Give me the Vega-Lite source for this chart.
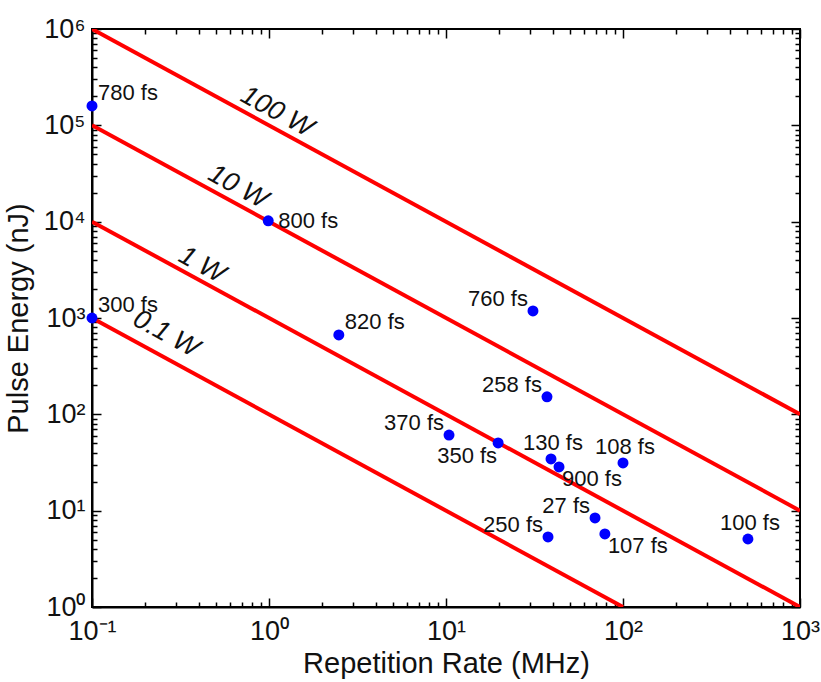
{
  "$schema": "https://vega.github.io/schema/vega-lite/v6.json",
  "width": 708,
  "height": 578,
  "autosize": {"type": "none"},
  "padding": {"left": 92, "top": 29, "right": 21, "bottom": 75},
  "background": "white",
  "config": {
    "font": "Liberation Sans",
    "view": {"stroke": "black", "strokeWidth": 2},
    "axis": {"grid": false, "labelFont": "Liberation Sans", "titleFont": "Liberation Sans", "labelColor": "#111", "titleColor": "#111", "titleFontWeight": "normal", "tickColor": "black", "domainColor": "black", "domainWidth": 2, "tickWidth": 1.5, "labelOverlap": false, "labelFlush": false}
  },
  "datasets": {
    "lines": [
      {"power": "100 W", "f": 0.1, "E": 1000000},
      {"power": "100 W", "f": 1000, "E": 100},
      {"power": "10 W", "f": 0.1, "E": 100000},
      {"power": "10 W", "f": 1000, "E": 10},
      {"power": "1 W", "f": 0.1, "E": 10000},
      {"power": "1 W", "f": 1000, "E": 1},
      {"power": "0.1 W", "f": 0.1, "E": 1000},
      {"power": "0.1 W", "f": 100, "E": 1}
    ],
    "lineLabels": [
      {"power": "100 W", "f": 1.11, "E": 138000},
      {"power": "10 W", "f": 0.668, "E": 23000},
      {"power": "1 W", "f": 0.418, "E": 3550},
      {"power": "0.1 W", "f": 0.262, "E": 684}
    ],
    "points": [
      {"label": "780 fs", "f": 0.1, "E": 159000},
      {"label": "800 fs", "f": 0.99, "E": 10200},
      {"label": "300 fs", "f": 0.1, "E": 1000},
      {"label": "820 fs", "f": 2.48, "E": 667},
      {"label": "760 fs", "f": 31, "E": 1185},
      {"label": "258 fs", "f": 37.2, "E": 152},
      {"label": "370 fs", "f": 10.4, "E": 61},
      {"label": "350 fs", "f": 19.7, "E": 50.5},
      {"label": "130 fs", "f": 39.2, "E": 34.4},
      {"label": "900 fs", "f": 43.5, "E": 28.4},
      {"label": "108 fs", "f": 100, "E": 31.3},
      {"label": "27 fs", "f": 69.5, "E": 8.4},
      {"label": "250 fs", "f": 37.7, "E": 5.33},
      {"label": "107 fs", "f": 79, "E": 5.73},
      {"label": "100 fs", "f": 508, "E": 5.08}
    ]
  },
  "layer": [
    {
      "data": {"name": "lines"},
      "mark": {"type": "line", "color": "#ff0000", "strokeWidth": 4, "clip": true},
      "encoding": {
        "x": {"field": "f", "type": "quantitative",
          "scale": {"type": "log", "domain": [0.1, 1000], "nice": false},
          "title": "Repetition Rate (MHz)",
          "axis": {"orient": "bottom",
            "values": [0.1,0.2,0.3,0.4,0.5,0.6,0.7,0.8,0.9,1,2,3,4,5,6,7,8,9,10,20,30,40,50,60,70,80,90,100,200,300,400,500,600,700,800,900,1000],
            "labelExpr": "abs(log(datum.value)/LN10 - round(log(datum.value)/LN10)) < 0.001 ? '10' + ['⁻¹','⁰','¹','²','³','⁴','⁵','⁶'][round(log(datum.value)/LN10)+1] : ''",
            "tickSize": {"condition": {"test": "abs(log(datum.value)/LN10 - round(log(datum.value)/LN10)) < 0.001", "value": -9}, "value": -5},
            "labelFontSize": 27, "labelPadding": 20, "titleFontSize": 29, "titlePadding": 1}},
        "y": {"field": "E", "type": "quantitative",
          "scale": {"type": "log", "domain": [1, 1000000], "nice": false},
          "title": "Pulse Energy (nJ)",
          "axis": {"orient": "left",
            "values": [1,2,3,4,5,6,7,8,9,10,20,30,40,50,60,70,80,90,100,200,300,400,500,600,700,800,900,1000,2000,3000,4000,5000,6000,7000,8000,9000,10000,20000,30000,40000,50000,60000,70000,80000,90000,100000,200000,300000,400000,500000,600000,700000,800000,900000,1000000],
            "labelExpr": "abs(log(datum.value)/LN10 - round(log(datum.value)/LN10)) < 0.001 ? '10' + ['⁻¹','⁰','¹','²','³','⁴','⁵','⁶'][round(log(datum.value)/LN10)+1] : ''",
            "tickSize": {"condition": {"test": "abs(log(datum.value)/LN10 - round(log(datum.value)/LN10)) < 0.001", "value": -9}, "value": -5},
            "labelFontSize": 27, "labelPadding": 16, "titleFontSize": 29, "titlePadding": 10}},
        "detail": {"field": "power"}
      }
    },
    {
      "data": {"name": "lineLabels"},
      "mark": {"type": "text", "angle": 28.6, "fontSize": 27, "fontStyle": "italic", "align": "center", "baseline": "middle", "color": "#111"},
      "encoding": {
        "x": {"field": "f", "type": "quantitative", "axis": null},
        "y": {"field": "E", "type": "quantitative", "axis": null},
        "text": {"field": "power"}
      }
    },
    {
      "data": {"name": "points"},
      "mark": {"type": "point", "filled": true, "color": "#0000ff", "size": 120, "opacity": 1, "clip": false},
      "encoding": {
        "x": {"field": "f", "type": "quantitative",
          "axis": {"orient": "top", "labels": false, "domain": false, "title": null,
            "values": [0.1,0.2,0.3,0.4,0.5,0.6,0.7,0.8,0.9,1,2,3,4,5,6,7,8,9,10,20,30,40,50,60,70,80,90,100,200,300,400,500,600,700,800,900,1000],
            "tickSize": {"condition": {"test": "abs(log(datum.value)/LN10 - round(log(datum.value)/LN10)) < 0.001", "value": -9}, "value": -5}}},
        "y": {"field": "E", "type": "quantitative",
          "axis": {"orient": "right", "labels": false, "domain": false, "title": null,
            "values": [1,2,3,4,5,6,7,8,9,10,20,30,40,50,60,70,80,90,100,200,300,400,500,600,700,800,900,1000,2000,3000,4000,5000,6000,7000,8000,9000,10000,20000,30000,40000,50000,60000,70000,80000,90000,100000,200000,300000,400000,500000,600000,700000,800000,900000,1000000],
            "tickSize": {"condition": {"test": "abs(log(datum.value)/LN10 - round(log(datum.value)/LN10)) < 0.001", "value": -9}, "value": -5}}}
      }
    },
    {
      "data": {"name": "points"},
      "transform": [{"filter": {"field": "label", "oneOf": ["780 fs", "300 fs", "820 fs"]}}],
      "mark": {"type": "text", "fontSize": 22, "align": "left", "baseline": "middle", "dx": 6, "dy": -13, "color": "#111"},
      "encoding": {"x": {"field": "f", "type": "quantitative", "axis": null}, "y": {"field": "E", "type": "quantitative", "axis": null}, "text": {"field": "label"}}
    },
    {
      "data": {"name": "points"},
      "transform": [{"filter": {"field": "label", "oneOf": ["800 fs"]}}],
      "mark": {"type": "text", "fontSize": 22, "align": "left", "baseline": "middle", "dx": 10, "dy": 0, "color": "#111"},
      "encoding": {"x": {"field": "f", "type": "quantitative", "axis": null}, "y": {"field": "E", "type": "quantitative", "axis": null}, "text": {"field": "label"}}
    },
    {
      "data": {"name": "points"},
      "transform": [{"filter": {"field": "label", "oneOf": ["760 fs", "258 fs", "370 fs", "27 fs", "250 fs"]}}],
      "mark": {"type": "text", "fontSize": 22, "align": "right", "baseline": "middle", "dx": -5, "dy": -12, "color": "#111"},
      "encoding": {"x": {"field": "f", "type": "quantitative", "axis": null}, "y": {"field": "E", "type": "quantitative", "axis": null}, "text": {"field": "label"}}
    },
    {
      "data": {"name": "points"},
      "transform": [{"filter": {"field": "label", "oneOf": ["350 fs"]}}],
      "mark": {"type": "text", "fontSize": 22, "align": "right", "baseline": "middle", "dx": -1, "dy": 13, "color": "#111"},
      "encoding": {"x": {"field": "f", "type": "quantitative", "axis": null}, "y": {"field": "E", "type": "quantitative", "axis": null}, "text": {"field": "label"}}
    },
    {
      "data": {"name": "points"},
      "transform": [{"filter": {"field": "label", "oneOf": ["130 fs", "108 fs", "100 fs"]}}],
      "mark": {"type": "text", "fontSize": 22, "align": "center", "baseline": "middle", "dx": 2, "dy": -16, "color": "#111"},
      "encoding": {"x": {"field": "f", "type": "quantitative", "axis": null}, "y": {"field": "E", "type": "quantitative", "axis": null}, "text": {"field": "label"}}
    },
    {
      "data": {"name": "points"},
      "transform": [{"filter": {"field": "label", "oneOf": ["900 fs", "107 fs"]}}],
      "mark": {"type": "text", "fontSize": 22, "align": "left", "baseline": "middle", "dx": 3, "dy": 12, "color": "#111"},
      "encoding": {"x": {"field": "f", "type": "quantitative", "axis": null}, "y": {"field": "E", "type": "quantitative", "axis": null}, "text": {"field": "label"}}
    }
  ]
}
